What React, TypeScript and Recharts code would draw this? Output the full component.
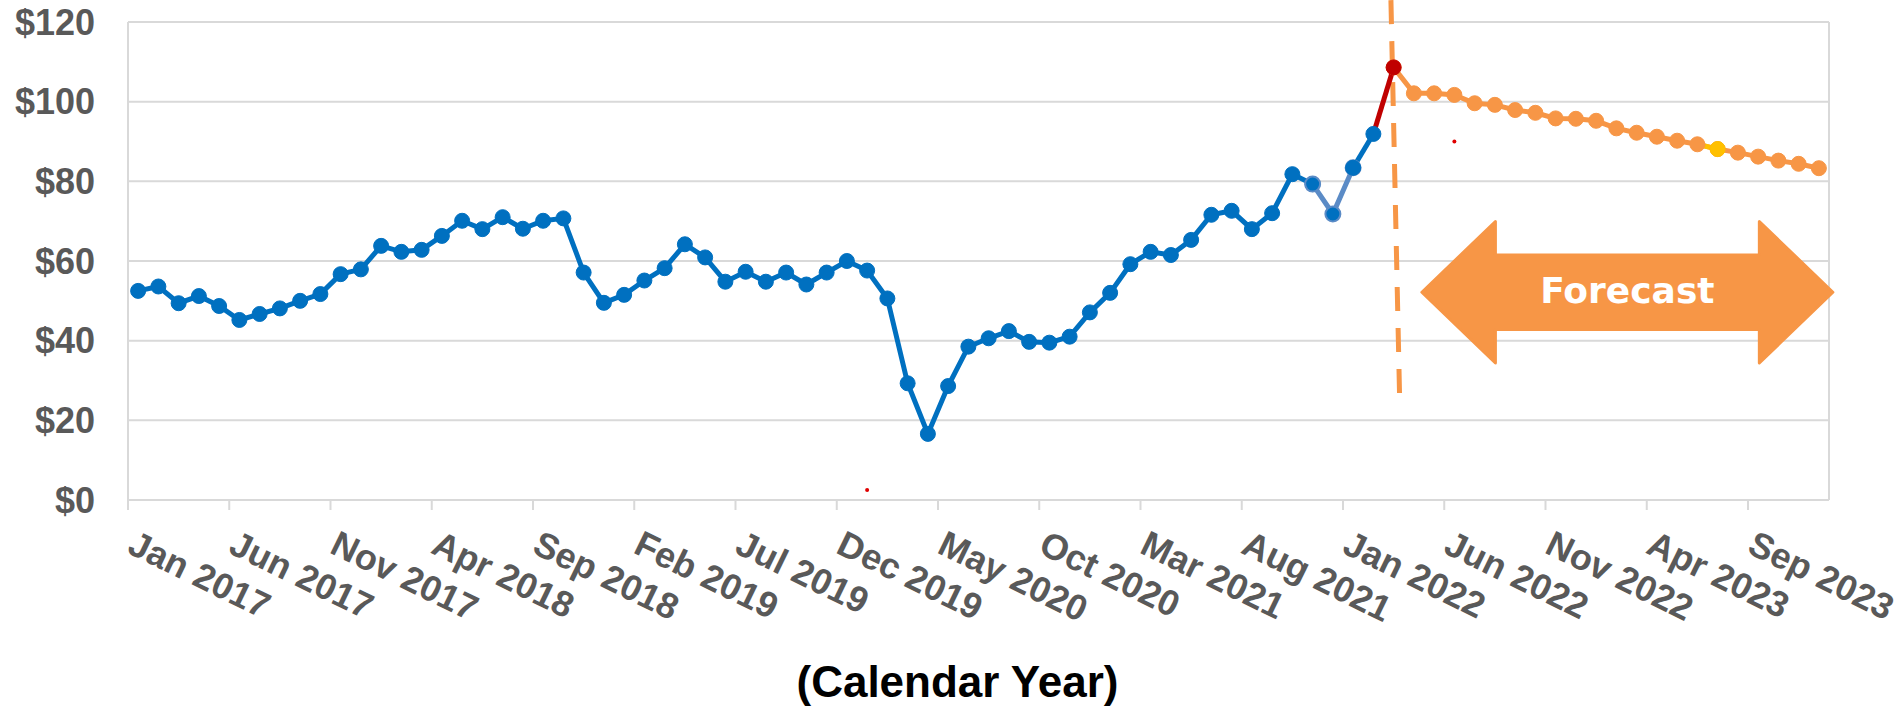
import React from "react";
import {
  LineChart,
  Line,
  XAxis,
  YAxis,
  CartesianGrid,
  ReferenceLine,
  ReferenceArea,
  ReferenceDot,
} from "recharts";

const YEARS = [2017, 2018, 2019, 2020, 2021, 2022, 2023];
const MONTH_NAMES = ["Jan", "Feb", "Mar", "Apr", "May", "Jun", "Jul", "Aug", "Sep", "Oct", "Nov", "Dec"];
const months = YEARS.flatMap((y) => MONTH_NAMES.map((m) => `${m} ${y}`));

// Jan 2017 .. Feb 2022
const history = [
  52.5, 53.6, 49.4, 51.2, 48.7, 45.2, 46.7, 48.1, 50.0, 51.7, 56.7, 57.9,
  63.8, 62.3, 62.8, 66.3, 70.1, 68.0, 71.0, 68.1, 70.1, 70.7, 57.1, 49.5,
  51.5, 55.1, 58.2, 64.2, 60.9, 54.8, 57.3, 54.8, 57.1, 54.1, 57.1, 60.0,
  57.6, 50.6, 29.3, 16.6, 28.6, 38.5, 40.6, 42.4, 39.7, 39.5, 41.0, 47.1,
  52.0, 59.2, 62.3, 61.5, 65.3, 71.6, 72.6, 68.0, 72.0, 81.8, 79.3, 71.8,
  83.4, 91.9,
];

// Mar 2022 .. Dec 2023
const forecast = [
  108.6, 102.1, 102.1, 101.7, 99.6, 99.2, 97.9, 97.2, 95.8, 95.7, 95.2,
  93.3, 92.2, 91.2, 90.2, 89.3, 88.1, 87.2, 86.2, 85.2, 84.4, 83.3,
];

const yTicks = [0, 20, 40, 60, 80, 100, 120];

// index ranges of the differently coloured stretches
const SOFT = [58, 60];
const JUMP = [61, 62];
const GOLD = [77, 78];

const values = [...history, ...forecast];
const fcStart = history.length;
const inRange = (i: number, r: number[]) => i >= r[0] && i <= r[1];

const data = months.map((month, i) => ({
  month,
  hist: i <= SOFT[0] ? values[i] : null,
  soft: inRange(i, SOFT) ? values[i] : null,
  hist2: i >= SOFT[1] && i <= JUMP[0] ? values[i] : null,
  jump: inRange(i, JUMP) ? values[i] : null,
  fc: i >= fcStart ? values[i] : null,
  gold: inRange(i, GOLD) ? values[i] : null,
}));

const W = 1902;
const H = 709;
const M = { top: 22, right: 73, left: 0, bottom: 0 };
const Y_W = 128;
const X_H = 209;
const BAND = (W - Y_W - M.right) / months.length;

const FONT = "'Liberation Sans', Arial, sans-serif";
const BLUE = "#0070C0";
const SOFT_BLUE = "#5B8BC6";
const RED = "#C00000";
const ORANGE = "#F79646";
const GOLD_C = "#FFC000";
const GRID = "#D9D9D9";
const LABEL = "#595959";
const LW = 5;
const R = 7.5;

function XTick(props: any) {
  const { x, y, payload } = props;
  if (payload.index % 5 !== 0) return <g />;
  const tx = x - BAND / 2;
  const ax = x - 1;
  const ay = y + 29;
  return (
    <g>
      <line x1={tx} y1={y} x2={tx} y2={y + 10} stroke={GRID} strokeWidth={2} />
      <text
        x={ax}
        y={ay}
        dy="0.72em"
        transform={`rotate(26, ${ax}, ${ay})`}
        fill={LABEL}
        fontSize={36}
        fontWeight={700}
        fontFamily={FONT}
        textAnchor="start"
      >
        {payload.value}
      </text>
    </g>
  );
}

function onlyDot(index: number, fill: string) {
  return (p: any) =>
    p.index === index ? (
      <circle key={p.key} cx={p.cx} cy={p.cy} r={R} fill={fill} stroke={fill} strokeWidth={1} />
    ) : (
      <g key={p.key} />
    );
}

function ForecastArrow(p: any) {
  const L = p.x + 8;
  const Rt = p.x + p.width + 14;
  const top = p.y;
  const bot = p.y + p.height;
  const cy = (top + bot) / 2;
  const head = p.height * 0.52;
  const half = p.height * 0.263;
  const pts = [
    [L, cy],
    [L + head, top],
    [L + head, cy - half],
    [Rt - head, cy - half],
    [Rt - head, top],
    [Rt, cy],
    [Rt - head, bot],
    [Rt - head, cy + half],
    [L + head, cy + half],
    [L + head, bot],
  ]
    .map((q) => q.join(","))
    .join(" ");
  return (
    <g>
      <polygon points={pts} fill={ORANGE} stroke={ORANGE} strokeWidth={3} strokeLinejoin="round" />
      <text
        x={(L + Rt) / 2}
        y={cy + 10.5}
        textAnchor="middle"
        fill="#FFFFFF"
        fontSize={36}
        fontWeight={700}
        fontFamily="'DejaVu Sans', sans-serif"
      >
        Forecast
      </text>
    </g>
  );
}

export default function App() {
  return (
    <div style={{ position: "absolute", left: 0, top: 0, width: W, height: H, background: "#fff" }}>
      <LineChart width={W} height={H} data={data} margin={M}>
        <CartesianGrid
          stroke={GRID}
          strokeWidth={2}
          verticalCoordinatesGenerator={({ offset }: any) => [offset.left, offset.left + offset.width]}
        />
        <XAxis
          dataKey="month"
          interval={0}
          height={X_H}
          padding={{ left: BAND / 2, right: BAND / 2 }}
          tickLine={false}
          tickSize={0}
          tickMargin={0}
          axisLine={{ stroke: GRID, strokeWidth: 2 }}
          tick={<XTick />}
          label={{
            content: ({ viewBox }: any) => (
              <text
                x={viewBox.x + viewBox.width / 2 - 21}
                y={viewBox.y + 197}
                textAnchor="middle"
                fontSize={44}
                fontWeight={700}
                fontFamily={FONT}
                fill="#000"
              >
                (Calendar Year)
              </text>
            ),
          }}
        />
        <YAxis
          width={Y_W}
          domain={[0, 120]}
          ticks={yTicks}
          axisLine={false}
          tickLine={false}
          tickSize={0}
          tickMargin={33}
          tickFormatter={(v: number) => `$${v}`}
          tick={{ fill: LABEL, fontSize: 36, fontWeight: 700, fontFamily: FONT }}
        />
        <ReferenceArea
          x1={months[fcStart + 1]}
          x2={months[months.length - 1]}
          y1={34.4}
          y2={69.9}
          ifOverflow="visible"
          shape={<ForecastArrow />}
        />
        <Line dataKey="hist" stroke={BLUE} strokeWidth={LW} dot={{ r: R, fill: BLUE, stroke: BLUE, strokeWidth: 1 }} isAnimationActive={false} />
        <Line
          dataKey="soft"
          stroke={SOFT_BLUE}
          strokeWidth={LW}
          dot={{ r: R, fill: BLUE, stroke: SOFT_BLUE, strokeWidth: 2 }}
          isAnimationActive={false}
        />
        <Line dataKey="hist2" stroke={BLUE} strokeWidth={LW} dot={{ r: R, fill: BLUE, stroke: BLUE, strokeWidth: 1 }} isAnimationActive={false} />
        <Line dataKey="fc" stroke={ORANGE} strokeWidth={LW} dot={{ r: R, fill: ORANGE, stroke: ORANGE, strokeWidth: 1 }} isAnimationActive={false} />
        <Line dataKey="gold" stroke={GOLD_C} strokeWidth={LW} dot={onlyDot(GOLD[1], GOLD_C)} isAnimationActive={false} />
        <ReferenceLine
          segment={[
            { x: months[fcStart], y: 125.5 },
            { x: months[fcStart], y: 25.6 },
          ]}
          ifOverflow="visible"
          stroke={ORANGE}
          strokeWidth={5}
          strokeDasharray="24 17"
          shape={(p: any) => (
            <line
              x1={p.x1 - 2.7}
              y1={p.y1}
              x2={p.x2 + 6}
              y2={p.y2}
              stroke={ORANGE}
              strokeWidth={5}
              strokeDasharray="24 17"
            />
          )}
        />
        <Line dataKey="jump" stroke={RED} strokeWidth={LW} dot={onlyDot(JUMP[1], RED)} isAnimationActive={false} />
        <ReferenceDot x={months[36]} y={2.5} r={2} fill="#E00000" stroke="none" ifOverflow="visible" />
        <ReferenceDot x={months[65]} y={90} r={2} fill="#E00000" stroke="none" ifOverflow="visible" />
      </LineChart>
    </div>
  );
}
